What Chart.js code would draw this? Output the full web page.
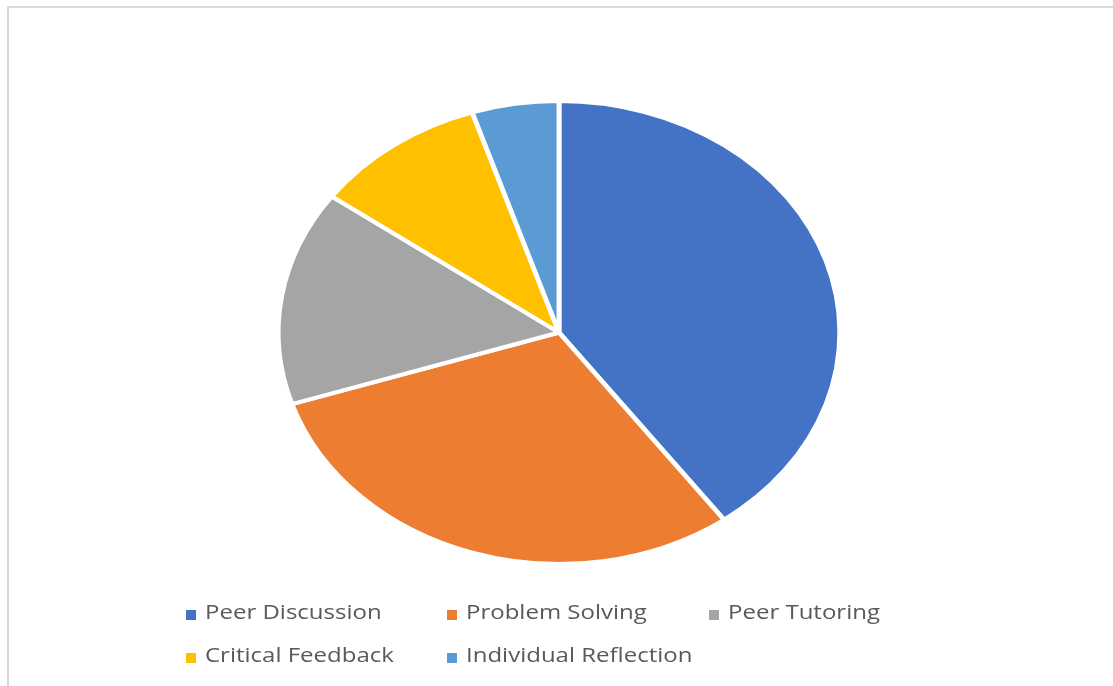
<!DOCTYPE html>
<html>
<head>
<meta charset="utf-8">
<script src="https://cdn.jsdelivr.net/npm/chart.js@4.4.0/dist/chart.umd.min.js"></script>
<style>
    html, body {
        margin: 0;
        padding: 0;
        background: #ffffff;
        overflow: hidden;
    }
    #frame {
        position: absolute;
        left: 7px;
        top: 6px;
        width: 1120px;
        height: 700px;
        border-left: 2px solid #d9d9d9;
        border-top: 2px solid #d9d9d9;
    }
    #chartWrap {
        position: absolute;
        left: 0;
        top: 0;
        width: 1113px;
        height: 686px;
    }
    #legend {
        position: absolute;
        left: 0;
        top: 0;
        font-family: 'Open Sans', sans-serif;
        font-size: 20px;
        color: #595959;
    }
    .legend-item {
        position: absolute;
        white-space: nowrap;
        line-height: 20px;
    }
    .legend-box {
        position: absolute;
        width: 10px;
        height: 10px;
        top: 5px;
        left: 0;
    }
    .legend-text {
        position: absolute;
        left: 19px;
        top: -3px;
        transform: scaleX(1.2);
        transform-origin: left center;
    }
</style>
</head>
<body>
<div id="frame"></div>
<div id="chartWrap"><canvas id="pieChart"></canvas></div>
<div id="legend"></div>
<script>
// Chart data
const categories = ['Peer Discussion', 'Problem Solving', 'Peer Tutoring', 'Critical Feedback', 'Individual Reflection'];
const shares = [40, 30, 15, 10, 5];
const sliceColors = ['#4472C4', '#ED7D31', '#A5A5A5', '#FFC000', '#5B9BD5'];

// The original pie is drawn wider than tall
const STRETCH_X = 1.213;

/**
 * Stretch only the pie horizontally around its centre
 */
const stretchPie = {
    id: 'stretchPie',
    beforeDatasetsDraw(chart) {
        const arc = chart.getDatasetMeta(0).data[0];
        if (!arc) return;
        const ctx = chart.ctx;
        ctx.save();
        ctx.translate(arc.x, arc.y);
        ctx.scale(STRETCH_X, 1);
        ctx.translate(-arc.x, -arc.y);
    },
    afterDatasetsDraw(chart) {
        chart.ctx.restore();
    },
};

/**
 * Build the legend as a two-row grid, like the original
 */
function buildLegend() {
    const legend = document.getElementById('legend');
    const colX = [186, 447, 709];
    const rowY = [605, 648];

    categories.forEach((name, i) => {
        const item = document.createElement('div');
        item.className = 'legend-item';
        item.style.left = colX[i % 3] + 'px';
        item.style.top = rowY[Math.floor(i / 3)] + 'px';
        item.innerHTML = `
            <span class="legend-box" style="background:${sliceColors[i]}"></span>
            <span class="legend-text">${name}</span>
        `;
        legend.appendChild(item);
    });
}

document.addEventListener('DOMContentLoaded', () => {
    const ctx = document.getElementById('pieChart');

    new Chart(ctx, {
        type: 'pie',
        data: {
            labels: categories,
            datasets: [{
                data: shares,
                backgroundColor: sliceColors,
                borderColor: '#ffffff',
                borderWidth: 4,
            }],
        },
        options: {
            responsive: true,
            maintainAspectRatio: false,
            animation: false,
            layout: {
                padding: { top: 99, bottom: 120, left: 118, right: 113 },
            },
            plugins: {
                legend: { display: false },
                tooltip: { enabled: false },
            },
        },
        plugins: [stretchPie],
    });

    buildLegend();
});
</script>
</body>
</html>
